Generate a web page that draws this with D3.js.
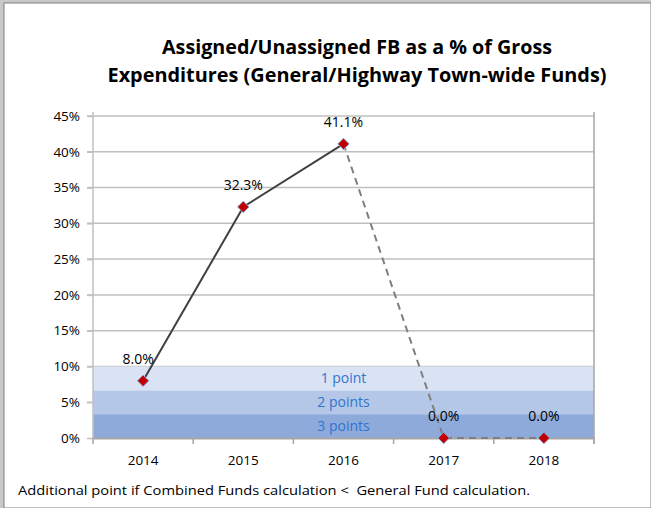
<!DOCTYPE html>
<html>
<head>
<meta charset="utf-8">
<script src="https://cdn.jsdelivr.net/npm/d3@7"></script>
<style>
  body { margin: 0; background: #c8c8c8; }
  svg { display: block; }
  text { font-family: "Open Sans", "Noto Sans", sans-serif; }
</style>
</head>
<body>
<svg id="chart" width="651" height="508"></svg>
<script>
let years = ["2014", "2015", "2016", "2017", "2018"];
let actualValues = [8.0, 32.3, 41.1];       // solid line 2014-2016
let projectedValues = [41.1, 0.0, 0.0];     // dashed line 2016-2018
let projectedYears = ["2016", "2017", "2018"];
let allValues = [8.0, 32.3, 41.1, 0.0, 0.0];
let yTicks = [0, 5, 10, 15, 20, 25, 30, 35, 40, 45];
let bandLabels = ["3 points", "2 points", "1 point"];
let bandEdges = [0, 10 / 3, 20 / 3, 10];
let titleLines = ["Assigned/Unassigned FB as a % of Gross", "Expenditures (General/Highway Town-wide Funds)"];
let footnote = "Additional point if Combined Funds calculation <  General Fund calculation.";

let svg = d3.select("#chart");

// white page with gray frame
svg.append("rect").attr("x", 4).attr("y", 3).attr("width", 647).attr("height", 505)
  .attr("fill", "#fff").attr("stroke", "#7f7f7f").attr("stroke-width", 1);

let margin = { left: 93, top: 116, right: 57, bottom: 70 };
let width = 651 - margin.left - margin.right;
let height = 508 - margin.top - margin.bottom;

let g = svg.append("g").attr("transform", `translate(${margin.left},${margin.top})`);

let x = d3.scaleBand().domain(years).range([0, width]);
let y = d3.scaleLinear().domain([0, 45]).range([height, 0]);
let cx = d => x(d) + x.bandwidth() / 2;

// gridlines
g.selectAll(".grid").data(yTicks.filter(t => t > 0)).enter().append("line")
  .attr("x1", -6).attr("x2", width)
  .attr("y1", d => y(d)).attr("y2", d => y(d))
  .attr("stroke", "#bfbfbf").attr("stroke-width", 1.5);

// scoring bands (drawn over the gridlines)
let bandColors = ["#8eaadb", "#b4c7e7", "#dae3f3"];
bandLabels.forEach((lab, i) => {
  g.append("rect")
    .attr("x", 0).attr("width", width)
    .attr("y", y(bandEdges[i + 1])).attr("height", y(bandEdges[i]) - y(bandEdges[i + 1]))
    .attr("fill", bandColors[i]);
});

// band labels
bandLabels.forEach((lab, i) => {
  g.append("text")
    .attr("x", width / 2).attr("y", (y(bandEdges[i]) + y(bandEdges[i + 1])) / 2)
    .attr("dy", "0.35em").attr("text-anchor", "middle")
    .attr("font-size", 14).attr("fill", "#2f75d0").text(lab);
});

// y axis
let yAxis = d3.axisLeft(y).tickValues(yTicks).tickFormat(d => d + "%").tickSize(6).tickSizeOuter(0);
let ya = g.append("g").call(yAxis);
ya.select(".domain").attr("stroke", "#bfbfbf").attr("stroke-width", 1.5).attr("d", `M0,-4V${height}`);
ya.selectAll(".tick line").attr("stroke", "#bfbfbf").attr("stroke-width", 1.5);
ya.selectAll(".tick text").attr("x", -13).attr("font-size", 13.5).attr("fill", "#000")
  .attr("font-family", "'Open Sans', sans-serif");

// right border
g.append("line").attr("x1", width).attr("x2", width).attr("y1", -4).attr("y2", height + 6)
  .attr("stroke", "#a6a6a6").attr("stroke-width", 1.5);

// x axis
let xAxis = d3.axisBottom(x).tickSize(0);
let xa = g.append("g").attr("transform", `translate(0,${height})`).call(xAxis);
xa.select(".domain").attr("stroke", "#a6a6a6").attr("stroke-width", 2);
xa.selectAll(".tick text").attr("y", 17).attr("font-size", 13.5).attr("fill", "#000")
  .attr("font-family", "'Open Sans', sans-serif");
g.selectAll(".xtick").data(years.concat(["end"])).enter().append("line")
  .attr("x1", (d, i) => i * x.step()).attr("x2", (d, i) => i * x.step())
  .attr("y1", height).attr("y2", height + 6)
  .attr("stroke", "#a6a6a6").attr("stroke-width", 1.5);

// lines
let line = d3.line().x(d => cx(d.year)).y(d => y(d.value));
g.append("path")
  .datum(actualValues.map((v, i) => ({ year: years[i], value: v })))
  .attr("d", line).attr("fill", "none").attr("stroke", "#404040").attr("stroke-width", 2);
g.append("path")
  .datum(projectedValues.map((v, i) => ({ year: projectedYears[i], value: v })))
  .attr("d", line).attr("fill", "none").attr("stroke", "#7f7f7f").attr("stroke-width", 2)
  .attr("stroke-dasharray", "7,5");

// markers
let diamond = d3.symbol().type(d3.symbolDiamond2).size(85);
g.selectAll(".pt").data(allValues).enter().append("path")
  .attr("transform", (d, i) => `translate(${cx(years[i])},${y(d)})`)
  .attr("d", diamond).attr("fill", "#c00000").attr("stroke", "#8db3e2").attr("stroke-width", 1);

// value labels
g.selectAll(".lbl").data(allValues).enter().append("text")
  .attr("x", (d, i) => cx(years[i]) - (i === 0 ? 5 : 0))
  .attr("y", d => y(d) - 17)
  .attr("text-anchor", "middle").attr("font-size", 14).attr("fill", "#000")
  .text(d => d.toFixed(1) + "%");

// title
titleLines.forEach((t, i) => {
  svg.append("text").attr("x", 357).attr("y", 54 + i * 28)
    .attr("text-anchor", "middle").attr("font-size", 19).attr("font-weight", "bold")
    .attr("fill", "#000").attr("font-family", "'Open Sans', sans-serif")
    .attr("textLength", i === 0 ? 390 : 499).attr("lengthAdjust", "spacingAndGlyphs")
    .text(t);
});

// footnote
svg.append("text").attr("x", 18).attr("y", 495).attr("font-size", 13.5).attr("fill", "#000")
  .style("white-space", "pre")
  .attr("textLength", 512).attr("lengthAdjust", "spacingAndGlyphs")
  .text(footnote);
</script>
</body>
</html>
